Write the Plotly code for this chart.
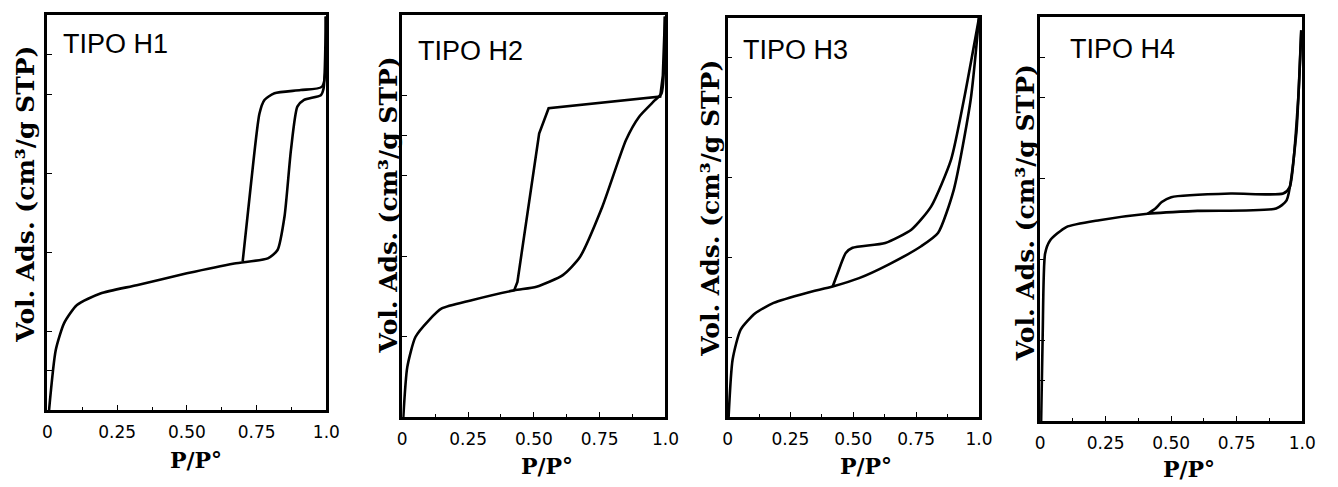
import plotly.graph_objects as go

W, H = 1338, 487

# ---------------- data (P/P0 vs relative volume adsorbed, 0-100) ----------------
h1_ads_x = [0.006, 0.03, 0.06, 0.106, 0.19, 0.32, 0.50, 0.67, 0.79, 0.825, 0.85, 0.873, 0.896, 0.92, 0.98, 0.99, 0.998]
h1_ads_y = [0.0, 15.2, 22.0, 26.6, 29.5, 31.6, 34.6, 37.1, 38.4, 40.5, 49.0, 65.8, 76.8, 78.5, 79.7, 81.4, 99.6]
h1_des_x = [0.998, 0.985, 0.908, 0.814, 0.778, 0.760, 0.730, 0.700]
h1_des_y = [99.6, 81.9, 81.0, 80.2, 78.5, 75.0, 57.4, 37.6]

h2_ads_x = [0.004, 0.019, 0.05, 0.10, 0.15, 0.26, 0.425, 0.51, 0.61, 0.675, 0.76, 0.85, 0.90, 0.96, 0.985, 0.998]
h2_ads_y = [0.0, 12.4, 19.9, 24.0, 27.0, 29.0, 31.5, 32.4, 35.3, 39.8, 52.3, 68.9, 74.7, 78.8, 80.5, 99.6]
h2_des_x = [0.998, 0.99, 0.98, 0.556, 0.52, 0.4375, 0.425]
h2_des_y = [99.6, 85.0, 79.7, 76.8, 70.5, 33.6, 31.5]

h3_ads_x = [0.004, 0.02, 0.052, 0.11, 0.183, 0.314, 0.418, 0.523, 0.64, 0.77, 0.837, 0.90, 0.967, 1.0]
h3_ads_y = [0.0, 14.4, 21.9, 26.0, 28.6, 31.1, 32.7, 34.8, 38.2, 42.8, 46.1, 57.0, 79.5, 100.0]
h3_des_x = [1.0, 0.94, 0.889, 0.81, 0.732, 0.627, 0.497, 0.47, 0.438, 0.418]
h3_des_y = [100.0, 79.5, 64.5, 52.8, 47.0, 43.6, 42.4, 41.1, 36.1, 32.7]

h4_ads_x = [0.004, 0.01, 0.019, 0.038, 0.10, 0.226, 0.41, 0.60, 0.90, 0.94, 0.977, 0.99, 0.996]
h4_ads_y = [0.0, 21.6, 41.4, 44.7, 48.0, 49.7, 51.3, 52.0, 52.6, 54.6, 71.1, 87.6, 96.7]
h4_des_x = [0.996, 0.984, 0.952, 0.927, 0.727, 0.50, 0.464, 0.44, 0.41]
h4_des_y = [96.7, 79.4, 57.9, 56.3, 56.3, 55.4, 54.2, 52.6, 51.3]

panel_labels = ["TIPO H1", "TIPO H2", "TIPO H3", "TIPO H4"]
x_tick_vals = [0, 0.25, 0.5, 0.75, 1.0]
x_tick_text = ["0", "0.25", "0.50", "0.75", "1.0"]
y_tick_sets = [[10, 20, 40, 60, 80, 90], [20, 40, 60, 70, 80], [20, 40, 60, 80, 90], [10, 20, 40, 60, 80, 90]]
y_title = "Vol. Ads. (cm³/g STP)"
x_title = "P/P°"

# ---------------- layout geometry (pixels) ----------------
frames = [(43, 326, 15, 410), (403, 670, 15, 417), (733, 988, 18, 417), (1050, 1316, 17, 421)]
ytitle_pos = [(20, 194), (390, 205), (715, 208), (1035, 213)]
xtitle_pos = [(194, 460), (550, 466), (873, 466), (1201, 469)]
label_pos = [(57, 44), (417, 51), (747, 50), (1078, 49)]
smooth = [(0.6, 0.6), (0.6, 0.0), (0.6, 0.6), (0.6, 0.6)]

series = [(h1_ads_x, h1_ads_y, h1_des_x, h1_des_y),
          (h2_ads_x, h2_ads_y, h2_des_x, h2_des_y),
          (h3_ads_x, h3_ads_y, h3_des_x, h3_des_y),
          (h4_ads_x, h4_ads_y, h4_des_x, h4_des_y)]

fig = go.Figure()
layout = dict(width=W, height=H, margin=dict(l=0, r=0, t=0, b=0),
              paper_bgcolor="white", plot_bgcolor="white", showlegend=False,
              font=dict(family="DejaVu Sans", color="black"))
annotations = []

for i, (ax, ay, dx, dy) in enumerate(series):
    n = "" if i == 0 else str(i + 1)
    for (xs, ys), sm in zip(((ax, ay), (dx, dy)), smooth[i]):
        line = dict(color="black", width=2.6, shape="spline", smoothing=sm) if sm > 0 else \
            dict(color="black", width=2.6, shape="linear")
        fig.add_trace(go.Scatter(x=xs, y=ys, mode="lines", xaxis="x" + n, yaxis="y" + n,
                                 line=line, hoverinfo="skip"))
    l, r, t, b = frames[i]
    layout["xaxis" + n] = dict(domain=[l / W, r / W], anchor="y" + n, range=[0, 1.0],
                               showline=True, mirror=True, linecolor="black", linewidth=2.5,
                               showgrid=False, zeroline=False, ticks="inside", ticklen=5,
                               tickwidth=1.2, tickcolor="black",
                               tickvals=x_tick_vals, ticktext=x_tick_text, ticklabelstandoff=5,
                               tickfont=dict(size=17, family="DejaVu Sans", color="black"),
                               minor=dict(ticks="inside", ticklen=3, tickwidth=1, dtick=0.125, tick0=0, tickcolor="black"))
    layout["yaxis" + n] = dict(domain=[1 - b / H, 1 - t / H], anchor="x" + n, range=[0, 100],
                               showline=True, mirror=True, linecolor="black", linewidth=2.5,
                               showgrid=False, zeroline=False, ticks="inside", ticklen=5,
                               tickwidth=1.2, tickcolor="black", tickvals=y_tick_sets[i],
                               showticklabels=False)
    px, py = ytitle_pos[i]
    annotations.append(dict(x=px / W, y=1 - py / H, xref="paper", yref="paper", text="<b>" + y_title + "</b>",
                            textangle=-90, showarrow=False, xanchor="center", yanchor="middle",
                            font=dict(size=25, family="DejaVu Serif", color="black")))
    px, py = xtitle_pos[i]
    annotations.append(dict(x=px / W, y=1 - py / H, xref="paper", yref="paper", text="<b>" + x_title + "</b>",
                            showarrow=False, xanchor="center", yanchor="middle",
                            font=dict(size=22, family="DejaVu Serif", color="black")))
    px, py = label_pos[i]
    annotations.append(dict(x=px / W, y=1 - py / H, xref="paper", yref="paper", text=panel_labels[i],
                            showarrow=False, xanchor="left", yanchor="middle",
                            font=dict(size=27, family="Liberation Sans", color="black")))

layout["annotations"] = annotations
fig.update_layout(**layout)
fig.write_html("out.html")
